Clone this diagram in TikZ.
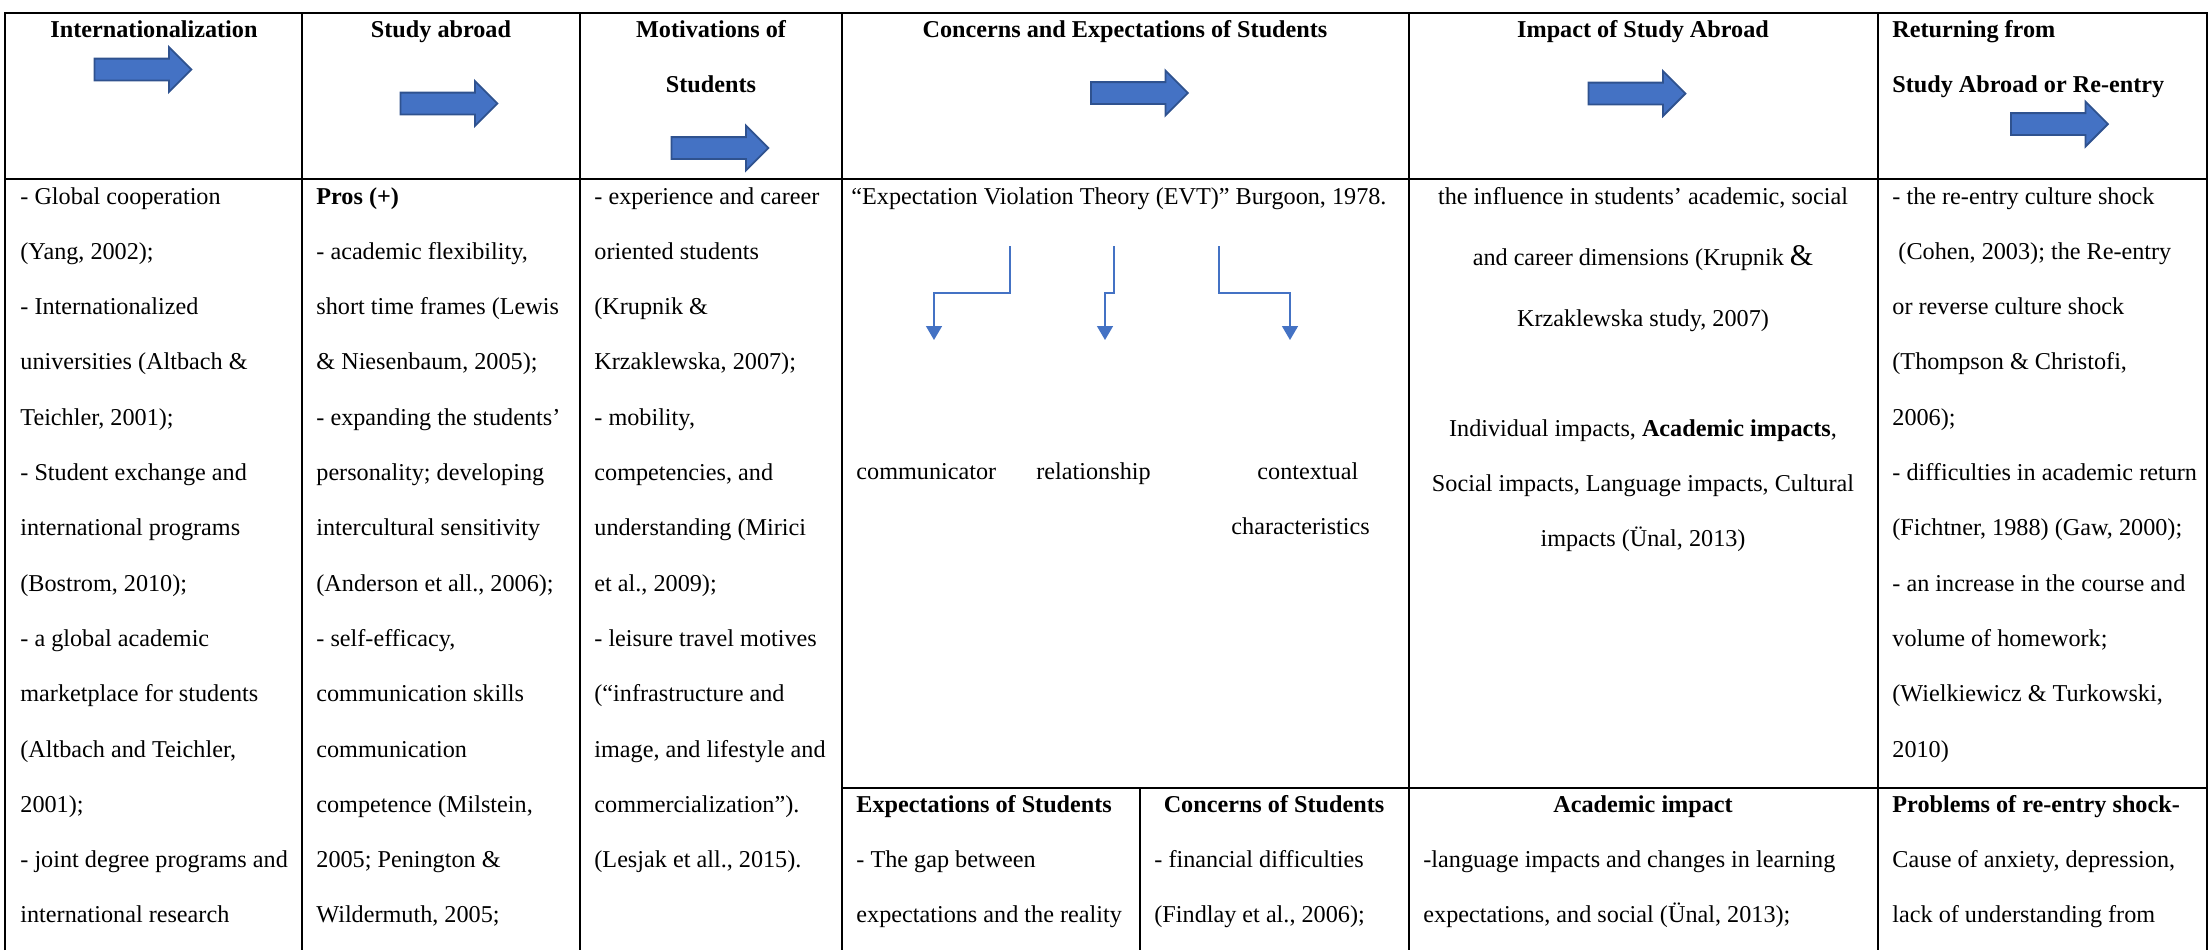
\documentclass[tikz,border=0pt]{standalone}
\usepackage{fontspec}
\setmainfont{Liberation Serif}
\usetikzlibrary{shapes.arrows, arrows.meta, positioning}
\definecolor{arrowblue}{RGB}{68, 114, 196}
\definecolor{arrowedge}{RGB}{47, 82, 143}
\tikzstyle{blockarrow} = [single arrow, draw=arrowedge, fill=arrowblue, line width=0.9pt, minimum height=48.5pt, minimum width=21.5pt, single arrow head extend=5.75pt, inner xsep=0pt, inner ysep=5pt, text height=0pt, text depth=0pt]
\tikzstyle{headtext} = [font=\fontsize{12.1}{14}\selectfont\bfseries, inner sep=0pt, anchor=base]
\tikzstyle{headleft} = [headtext, anchor=base west]
\tikzstyle{bodytext} = [font=\fontsize{12.1}{14}\selectfont, inner sep=0pt, anchor=base west]
\tikzstyle{bodymid} = [bodytext, anchor=base]
\tikzstyle{tableline} = [line width=1pt, black]
\tikzstyle{elbow} = [arrowblue, line width=0.75pt, -{Triangle[width=8pt,length=7pt]}]

\begin{document}
\begin{tikzpicture}[x=0.5pt, y=-0.5pt]
\useasboundingbox (0,0) rectangle (2211,950);

% Table grid
\draw[tableline] (5,950) -- (5,13) -- (2207,13) -- (2207,950);
\draw[tableline] (5,179) -- (2207,179);
\foreach \xb in {302, 580, 842, 1409, 1878}
  \draw[tableline] (\xb,13) -- (\xb,950);
\draw[tableline] (842,788) -- (2207,788);
\draw[tableline] (1140,788) -- (1140,950);

% Header row
\node (hIntl) [headtext] at (154,37) {Internationalization};
\node (hStudy) [headtext] at (441,37) {Study abroad};
\node (hMotiv) [headtext] at (711,37) {Motivations of};
\node (hMotivB) [headtext] at (711,92) {Students};
\node (hConc) [headtext] at (1125,37) {Concerns and Expectations of Students};
\node (hImpact) [headtext] at (1643,37) {Impact of Study Abroad};
\node (hReturn) [headleft] at (1892,37) {Returning from};
\node (hReturnB) [headleft] at (1892,92) {Study Abroad or Re-entry};

% Block arrows
\node (arIntl) [blockarrow] at (137.5,69.5) {};
\node (arStudy) [blockarrow] at (443.5,103.5) {};
\node (arMotiv) [blockarrow] at (714.5,148) {};
\node (arConc) [blockarrow] at (1134,93) {};
\node (arImpact) [blockarrow] at (1631.5,93.5) {};
\node (arReturn) [blockarrow] at (2054,124) {};

% Internationalization
\foreach \txt [count=\k from 0] in {{- Global cooperation}, {(Yang, 2002);}, {- Internationalized}, {universities (Altbach \&}, {Teichler, 2001);}, {- Student exchange and}, {international programs}, {(Bostrom, 2010);}, {- a global academic}, {marketplace for students}, {(Altbach and Teichler,}, {2001);}, {- joint degree programs and}, {international research}}
  \node (intl-\k) [bodytext] at (20,{204+55.3*\k}) {\txt};

% Study abroad
\foreach \txt [count=\k from 0] in {{\textbf{Pros (+)}}, {- academic flexibility,}, {short time frames (Lewis}, {\& Niesenbaum, 2005);}, {- expanding the students’}, {personality; developing}, {intercultural sensitivity}, {(Anderson et all., 2006);}, {- self-efficacy,}, {communication skills}, {communication}, {competence (Milstein,}, {2005; Penington \&}, {Wildermuth, 2005;}}
  \node (study-\k) [bodytext] at (316,{204+55.3*\k}) {\txt};

% Motivations of students
\foreach \txt [count=\k from 0] in {{- experience and career}, {oriented students}, {(Krupnik \&}, {Krzaklewska, 2007);}, {- mobility,}, {competencies, and}, {understanding (Mirici}, {et al., 2009);}, {- leisure travel motives}, {(“infrastructure and}, {image, and lifestyle and}, {commercialization”).}, {(Lesjak et all., 2015).}}
  \node (motiv-\k) [bodytext] at (594,{204+55.3*\k}) {\txt};

% Concerns and expectations
\node (evt) [bodytext] at (851,204) {“Expectation Violation Theory (EVT)” Burgoon, 1978.};
\node (comm) [bodytext] at (856,479) {communicator};
\node (relat) [bodytext] at (1036,479) {relationship};
\node (context) [bodytext] at (1257,479) {contextual};
\node (contextB) [bodytext] at (1231,534) {characteristics};
\coordinate (evtA) at (1010,246);
\coordinate (evtB) at (1114,246);
\coordinate (evtC) at (1219,246);
\coordinate (commTip) at (934,340);
\coordinate (relatTip) at (1105,340);
\coordinate (contextTip) at (1290,340);
\draw[elbow] (evtA) -- ++(0,47) -| (commTip);
\draw[elbow] (evtB) -- ++(0,47) -| (relatTip);
\draw[elbow] (evtC) -- ++(0,47) -| (contextTip);

\node (expHead) [bodytext, font=\fontsize{12.1}{14}\selectfont\bfseries] at (856,812) {Expectations of Students};
\node (exp-1) [bodytext] at (856,867) {- The gap between};
\node (exp-2) [bodytext] at (856,922) {expectations and the reality};
\node (concHead) [headtext] at (1274,812) {Concerns of Students};
\node (conc-1) [bodytext] at (1154,867) {- financial difficulties};
\node (conc-2) [bodytext] at (1154,922) {(Findlay et al., 2006);};

% Impact of study abroad
\node (imp-0) [bodymid] at (1643,204) {the influence in students’ academic, social};
\node (imp-1) [bodymid] at (1643,265) {and career dimensions (Krupnik {\fontsize{15}{15}\selectfont\&}};
\node (imp-2) [bodymid] at (1643,326) {Krzaklewska study, 2007)};
\node (imp-3) [bodymid] at (1643,436) {Individual impacts, \textbf{Academic impacts},};
\node (imp-4) [bodymid] at (1643,491) {Social impacts, Language impacts, Cultural};
\node (imp-5) [bodymid] at (1643,546) {impacts (Ünal, 2013)};
\node (acadHead) [headtext] at (1643,812) {Academic impact};
\node (acad-1) [bodytext] at (1423,867) {-language impacts and changes in learning};
\node (acad-2) [bodytext] at (1423,922) {expectations, and social (Ünal, 2013);};

% Returning from study abroad
\foreach \txt [count=\k from 0] in {{- the re-entry culture shock}, {\hspace{0.25em}(Cohen, 2003); the Re-entry}, {or reverse culture shock}, {(Thompson \& Christofi,}, {2006);}, {- difficulties in academic return}, {(Fichtner, 1988) (Gaw, 2000);}, {- an increase in the course and}, {volume of homework;}, {(Wielkiewicz \& Turkowski,}, {2010)}, {\textbf{Problems of re-entry shock-}}, {Cause of anxiety, depression,}, {lack of understanding from}}
  \node (ret-\k) [bodytext] at (1892,{204+55.3*\k}) {\txt};

\end{tikzpicture}
\end{document}
